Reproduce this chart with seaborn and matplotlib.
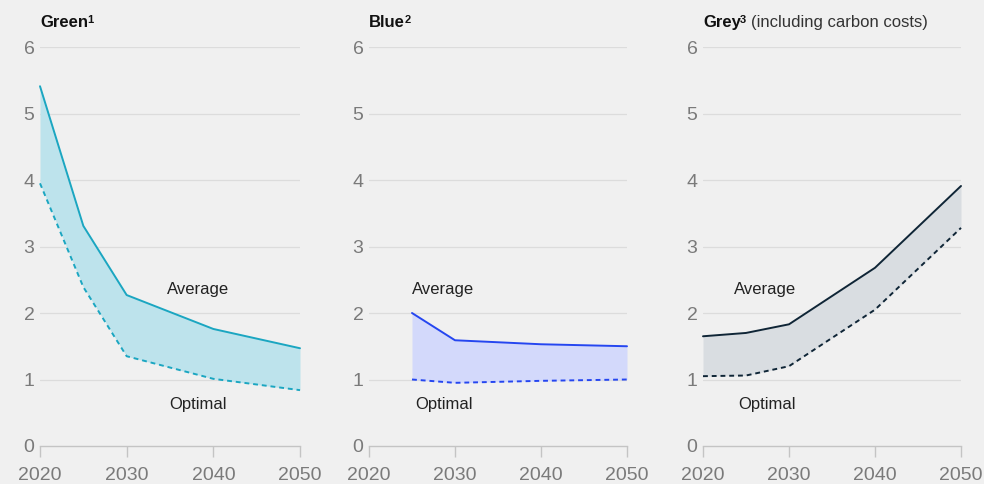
import matplotlib
matplotlib.use("Agg")
import matplotlib.pyplot as plt
import seaborn as sns

# Data
years = [2020, 2025, 2030, 2040, 2050]
blue_years = [2025, 2030, 2040, 2050]

green_avg = [5.41, 3.31, 2.27, 1.76, 1.47]
green_opt = [3.95, 2.39, 1.35, 1.01, 0.84]

blue_avg = [2.00, 1.59, 1.53, 1.50]
blue_opt = [1.00, 0.95, 0.98, 1.00]

grey_avg = [1.65, 1.70, 1.83, 2.68, 3.91]
grey_opt = [1.05, 1.06, 1.20, 2.05, 3.28]

x_ticks = [2020, 2030, 2040, 2050]
y_ticks = [0, 1, 2, 3, 4, 5, 6]

BG = "#f0f0f0"

sns.set_theme(style="white")
plt.rcParams["font.family"] = ["Liberation Sans", "DejaVu Sans"]

fig = plt.figure(figsize=(9.84, 4.84), dpi=100, facecolor=BG)

panels = [
    dict(title="Green", sup="1", extra=None, x=years, avg=green_avg, opt=green_opt,
         line="#1ba6c1", fill="#bde3ec", left=40, right=300,
         avg_lbl=(2038.2, 2.36), opt_lbl=(2038.2, 0.63)),
    dict(title="Blue", sup="2", extra=None, x=blue_years, avg=blue_avg, opt=blue_opt,
         line="#2546f0", fill="#d3d9fb", left=369, right=627,
         avg_lbl=(2028.6, 2.36), opt_lbl=(2028.7, 0.63)),
    dict(title="Grey", sup="3", extra="(including carbon costs)", x=years, avg=grey_avg, opt=grey_opt,
         line="#0f2536", fill="#d9dde1", left=703, right=961,
         avg_lbl=(2027.2, 2.36), opt_lbl=(2027.4, 0.63)),
]

W, H = 984, 484
top_px, bot_px = 47, 446

for p in panels:
    ax = fig.add_axes([p["left"] / W, 1 - bot_px / H,
                       (p["right"] - p["left"]) / W, (bot_px - top_px) / H])
    ax.set_facecolor(BG)

    ax.fill_between(p["x"], p["opt"], p["avg"], color=p["fill"], lw=0, zorder=1)
    sns.lineplot(x=p["x"], y=p["avg"], ax=ax, color=p["line"], lw=1.4, zorder=3)
    sns.lineplot(x=p["x"], y=p["opt"], ax=ax, color=p["line"], lw=1.4,
                 linestyle=(0, (2.5, 2)), zorder=3)
    for ln in ax.lines:
        ln.set_clip_on(False)

    ax.set_xlim(2020, 2050)
    ax.set_ylim(0, 6)
    ax.set_xticks(x_ticks)
    ax.set_yticks(y_ticks)
    ax.set_xticklabels([str(t) for t in x_ticks])
    ax.set_yticklabels([str(t) for t in y_ticks])

    for y in y_ticks[1:]:
        ax.axhline(y, color="#dcdcdc", lw=0.9, zorder=0)

    for side in ["top", "right", "left"]:
        ax.spines[side].set_visible(False)
    ax.spines["bottom"].set_color("#c4c4c4")
    ax.spines["bottom"].set_linewidth(1.0)
    ax.spines["bottom"].set_zorder(0.5)

    ax.tick_params(axis="x", length=8, width=1.0, color="#c4c4c4",
                   labelsize=14, labelcolor="#7a7a7a", pad=7, bottom=True)
    ax.tick_params(axis="y", length=0, labelsize=14, labelcolor="#7a7a7a", pad=4)

    ax.text(p["avg_lbl"][0], p["avg_lbl"][1], "Average", ha="center", va="center",
            fontsize=12, color="#222222")
    ax.text(p["opt_lbl"][0], p["opt_lbl"][1], "Optimal", ha="center", va="center",
            fontsize=12, color="#222222")

    t = ax.text(0, 1.05, p["title"], transform=ax.transAxes, ha="left", va="baseline",
                fontsize=12, fontweight="bold", color="#111111")
    ax.annotate(p["sup"], xy=(1, 0), xycoords=t, xytext=(-0.5, 5),
                textcoords="offset points", va="baseline", ha="left",
                fontsize=8, fontweight="bold", color="#111111")
    if p["extra"]:
        ax.annotate(p["extra"], xy=(1, 0), xycoords=t, xytext=(7.5, 0),
                    textcoords="offset points", va="bottom", ha="left",
                    fontsize=12, color="#333333")
    ax.set_xlabel("")
    ax.set_ylabel("")

fig.savefig("out.png", dpi=100, facecolor=BG)
